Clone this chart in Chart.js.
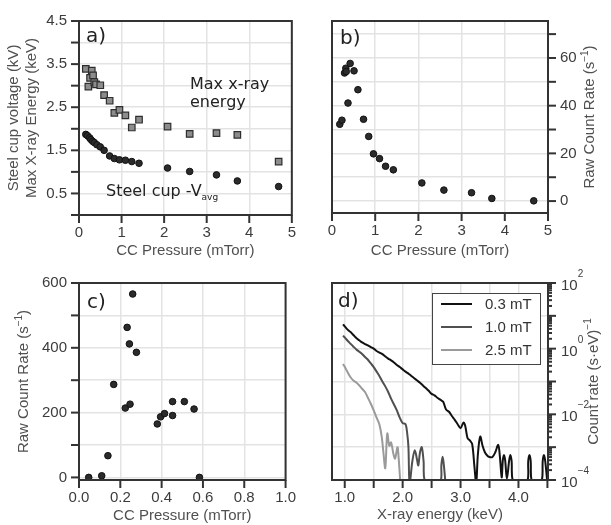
<!DOCTYPE html>
<html>
<head>
<meta charset="utf-8">
<script src="https://cdn.jsdelivr.net/npm/chart.js@4.4.1/dist/chart.umd.min.js"></script>
<style>
  body { margin: 0; background: #fff; }
  #wrap { position: relative; width: 611px; height: 525px; overflow: hidden; }
  canvas { position: absolute; }
</style>
</head>
<body>
<div id="wrap">
  <canvas id="chart-a" width="305" height="262" style="left:0;top:0"></canvas>
  <canvas id="chart-b" width="306" height="262" style="left:305px;top:0"></canvas>
  <canvas id="chart-c" width="305" height="263" style="left:0;top:262px"></canvas>
  <canvas id="chart-d" width="306" height="263" style="left:305px;top:262px"></canvas>
</div>
<script>
// a) steel cup voltage and max x-ray energy vs CC pressure
const aCupPressure = [0.16, 0.20, 0.25, 0.28, 0.32, 0.36, 0.42, 0.50, 0.59, 0.72, 0.83, 0.95, 1.09, 1.24, 1.41, 2.08, 2.60, 3.23, 3.72, 4.69];
const aCupVoltage = [1.87, 1.84, 1.79, 1.75, 1.71, 1.68, 1.63, 1.58, 1.50, 1.37, 1.31, 1.28, 1.27, 1.24, 1.20, 1.09, 1.01, 0.93, 0.79, 0.66];
const aXrayPressure = [0.16, 0.22, 0.26, 0.30, 0.33, 0.36, 0.40, 0.50, 0.59, 0.72, 0.83, 0.95, 1.09, 1.24, 1.41, 2.08, 2.60, 3.23, 3.72, 4.69];
const aXrayEnergy = [3.39, 2.98, 3.18, 3.35, 3.24, 3.08, 3.03, 3.01, 2.78, 2.65, 2.37, 2.44, 2.31, 2.03, 2.21, 2.05, 1.88, 1.90, 1.86, 1.24];

// b) raw count rate vs CC pressure
const bPressure = [0.18, 0.23, 0.29, 0.32, 0.33, 0.37, 0.42, 0.51, 0.60, 0.73, 0.85, 0.96, 1.10, 1.24, 1.42, 2.08, 2.59, 3.23, 3.70, 4.67];
const bRate = [32.2, 33.9, 53.7, 55.7, 54.3, 41.1, 57.7, 54.6, 46.7, 34.3, 27.1, 19.8, 17.8, 14.6, 13.1, 7.6, 4.6, 3.5, 1.1, 0.1];

// c) raw count rate, low pressure range
const cPressure = [0.047, 0.11, 0.14, 0.168, 0.224, 0.233, 0.244, 0.247, 0.26, 0.278, 0.379, 0.395, 0.414, 0.453, 0.453, 0.51, 0.557, 0.583];
const cRate = [0, 5, 67, 287, 214, 463, 412, 226, 566, 386, 165, 187, 197, 234, 191, 234, 211, 0];

// d) x-ray spectra, count rate (s·eV)^-1 vs energy (keV)
const dSeriesNames = ['0.3 mT', '1.0 mT', '2.5 mT'];
const dEnergy03 = [0.97, 1.00, 1.05, 1.10, 1.15, 1.20, 1.25, 1.30, 1.35, 1.40, 1.45, 1.50, 1.55, 1.60, 1.65, 1.70, 1.75, 1.80, 1.85, 1.90,
  1.95, 2.00, 2.05, 2.10, 2.15, 2.20, 2.25, 2.30, 2.35, 2.40, 2.45, 2.50, 2.55, 2.60, 2.65, 2.70, 2.75, 2.80, 2.85, 2.90,
  2.95, 3.00, 3.05, 3.08, 3.12, 3.16, 3.20, 3.24, 3.27, 3.30, 3.34, 3.38, 3.42, 3.46, 3.50, 3.55, 3.60, 3.65, 3.68, 3.71,
  3.73, 3.75, 3.77, 3.80, 3.84, 3.86, 3.88, 3.92, 4.14, 4.17, 4.19, 4.21, 4.24, 4.39, 4.42, 4.44, 4.46, 4.50];
const dRate03 = [5.5, 4.8, 3.8, 3.2, 2.6, 2.1, 1.8, 1.55, 1.38, 1.26, 1.12, 1.0, 0.85, 0.76, 0.68, 0.58, 0.50, 0.44, 0.38, 0.32,
  0.275, 0.234, 0.20, 0.174, 0.148, 0.126, 0.107, 0.091, 0.076, 0.063, 0.052, 0.042, 0.038, 0.032, 0.028, 0.024, 0.014, 0.012, 0.0089, 0.0068,
  0.0050, 0.0038, 0.0056, 0.0045, 0.0019, 0.0016, 0.00126, 0.00025, 0.00008, 0.00063, 0.0021, 0.0011, 0.0007, 0.00056, 0.0005, 0.0005, 0.0007, 0.00117, 0.0005, 0.00012,
  0.0004, 0.00058, 0.0004, 0.00011, 0.0004, 0.00058, 0.0004, 0.00008, 0.00008, 0.0004, 0.00058, 0.0004, 0.00008, 0.00008, 0.0004, 0.00058, 0.0004, 0.00008];
const dEnergy10 = [0.97, 1.00, 1.05, 1.10, 1.15, 1.20, 1.25, 1.30, 1.35, 1.40, 1.45, 1.50, 1.55, 1.60, 1.65, 1.70, 1.75, 1.80, 1.85, 1.90,
  1.95, 2.00, 2.05, 2.08, 2.10, 2.12, 2.17, 2.21, 2.25, 2.27, 2.30, 2.33, 2.36, 2.40, 2.64, 2.67, 2.69, 2.71, 2.74];
const dRate10 = [2.5, 2.2, 1.74, 1.41, 1.15, 0.95, 0.81, 0.69, 0.56, 0.46, 0.355, 0.275, 0.20, 0.145, 0.10, 0.071, 0.048, 0.030, 0.020, 0.0132,
  0.0079, 0.0054, 0.0050, 0.0025, 0.001, 0.00008, 0.0004, 0.00081, 0.0004, 0.00028, 0.0007, 0.001, 0.0004, 0.00008, 0.00008, 0.0003, 0.00051, 0.0003, 0.00008];
const dEnergy25 = [0.97, 1.00, 1.05, 1.10, 1.15, 1.20, 1.25, 1.30, 1.35, 1.40, 1.45, 1.50, 1.55, 1.60, 1.64, 1.67, 1.70, 1.735, 1.77, 1.80,
  1.84, 1.87, 1.91, 1.93, 1.96];
const dRate25 = [0.34, 0.28, 0.19, 0.135, 0.107, 0.093, 0.076, 0.060, 0.048, 0.032, 0.021, 0.0132, 0.0079, 0.0048, 0.002, 0.00063, 0.00023, 0.0026, 0.0011, 0.0014,
  0.00063, 0.00045, 0.001, 0.0005, 0.00008];

// axis ticks
const ticksPressure = [0, 1, 2, 3, 4, 5];
const ticksVoltage = [0, 0.5, 1, 1.5, 2, 2.5, 3, 3.5, 4, 4.5];
const ticksRateB = [0, 10, 20, 30, 40, 50, 60, 70];
const ticksPressureC = [0, 0.2, 0.4, 0.6, 0.8, 1.0];
const ticksRateC = [0, 100, 200, 300, 400, 500, 600];
const ticksEnergy = [1.0, 1.5, 2.0, 2.5, 3.0, 3.5, 4.0, 4.5];
const decades = [-4, -3, -2, -1, 0, 1, 2];

const SANS = '"Liberation Sans", Arial, sans-serif';
const NOTE = '"DejaVu Sans", Verdana, sans-serif';
const GRID = '#e3e3e3';
const TICK_COLOR = '#3c3c3c';
const TITLE_COLOR = '#505050';

const xy = (xs, ys) => ys.map((y, i) => ({ x: xs[i], y }));
const isDecade = v => Math.abs(Math.log10(v) - Math.round(Math.log10(v))) < 1e-6;

// log ticks: every 1..9 x 10^n between 1e-4 and 1e2
const logTicks = [];
decades.forEach(e => {
  for (let m = 1; m <= 9; m++) {
    if (e === 2 && m > 1) break;
    logTicks.push(m * Math.pow(10, e));
  }
});

// draws text made of pieces: [text, size, dy, font]
function richText(ctx, parts, x, y, align, rotate, color) {
  ctx.save();
  ctx.translate(x, y);
  if (rotate) ctx.rotate(-Math.PI / 2);
  ctx.fillStyle = color;
  ctx.textBaseline = 'alphabetic';
  ctx.textAlign = 'left';
  let w = 0;
  parts.forEach(p => {
    ctx.font = p[1] + 'px ' + (p[3] || SANS);
    w += ctx.measureText(p[0]).width;
  });
  let u = align === 'center' ? -w / 2 : 0;
  parts.forEach(p => {
    ctx.font = p[1] + 'px ' + (p[3] || SANS);
    ctx.fillText(p[0], u, p[2] || 0);
    u += ctx.measureText(p[0]).width;
  });
  ctx.restore();
}

const decor = {
  id: 'decor',
  afterDatasetsDraw(chart) {
    const { ctx, chartArea: a } = chart;
    ctx.save();
    ctx.strokeStyle = '#333';
    ctx.lineWidth = 2;
    Object.values(chart.scales).forEach(s => {
      s.ticks.forEach(t => {
        const p = s.getPixelForValue(t.value);
        const len = s.type === 'logarithmic' && !isDecade(t.value) ? 4 : 8;
        ctx.beginPath();
        if (s.axis === 'x') {
          ctx.moveTo(p, a.bottom);
          ctx.lineTo(p, a.bottom + len);
        } else if (s.position === 'left') {
          ctx.moveTo(a.left - len, p);
          ctx.lineTo(a.left, p);
        } else {
          ctx.moveTo(a.right, p);
          ctx.lineTo(a.right + len, p);
        }
        ctx.stroke();
      });
    });
    ctx.strokeRect(a.left, a.top, a.width, a.height);
    ctx.restore();
  },
  afterDraw(chart, args, opts) {
    const { ctx, chartArea: a } = chart;
    const cx = (a.left + a.right) / 2;
    const cy = (a.top + a.bottom) / 2;
    // panel letter
    richText(ctx, [[opts.label[0], 20, 0, NOTE]], a.left + opts.label[1], a.top + opts.label[2], 'left', false, '#222');
    // axis titles
    richText(ctx, [[opts.xTitle || 'CC Pressure (mTorr)', 15]], cx, a.bottom + opts.xTitleGap, 'center', false, TITLE_COLOR);
    (opts.yTitles || []).forEach(t => {
      richText(ctx, t.parts, t.x, cy + (t.dy || 0), 'center', true, TITLE_COLOR);
    });
    (opts.notes || []).forEach(n => richText(ctx, n.parts, n.x, n.y, 'left', false, '#222'));
    if (opts.after) opts.after(chart);
  }
};

function linear(position, min, max, tickVals, label, fitSize) {
  return {
    type: 'linear',
    position,
    min, max,
    afterBuildTicks: s => { s.ticks = tickVals.map(v => ({ value: v })); },
    afterFit: s => {
      if (s.isHorizontal()) s.height = fitSize; else s.width = fitSize;
    },
    grid: { color: GRID, lineWidth: 1.5, drawTicks: false },
    border: { display: false },
    ticks: {
      autoSkip: false, maxRotation: 0,
      padding: position === 'bottom' ? 9 : 12,
      color: TICK_COLOR,
      font: { family: SANS, size: 15 },
      callback: label
    }
  };
}

const common = {
  responsive: false,
  animation: false,
  devicePixelRatio: 1,
  plugins: { legend: { display: false }, tooltip: { enabled: false } }
};

const dot = { pointRadius: 3.3, pointBackgroundColor: '#2b2b2b', pointBorderColor: '#111', pointBorderWidth: 1 };

// panel a
new Chart(document.getElementById('chart-a'), {
  type: 'scatter',
  data: {
    datasets: [
      { data: xy(aXrayPressure, aXrayEnergy), pointStyle: 'rect', pointRadius: 4.6,
        pointBackgroundColor: '#8c8c8c', pointBorderColor: '#2e2e2e', pointBorderWidth: 1.2 },
      Object.assign({ data: xy(aCupPressure, aCupVoltage) }, dot)
    ]
  },
  options: Object.assign({}, common, {
    layout: { padding: { left: 0, top: 15, right: 12, bottom: 0 } },
    scales: {
      x: linear('bottom', 0, 5, ticksPressure, v => String(v), 47),
      y: linear('left', 0, 4.5, ticksVoltage, v => (v * 2) % 2 === 1 ? v.toFixed(1) : '', 79)
    },
    plugins: Object.assign({}, common.plugins, {
      decor: {
        label: ['a)', 7, 21], xTitleGap: 40,
        yTitles: [
          { parts: [['Steel cup voltage (kV)', 15]], x: 18 },
          { parts: [['Max X-ray Energy (keV)', 15]], x: 36 }
        ],
        notes: [
          { parts: [['Max x-ray', 16, 0, NOTE]], x: 190, y: 89 },
          { parts: [['energy', 16, 0, NOTE]], x: 190, y: 107 },
          { parts: [['Steel cup -V', 16, 0, NOTE], ['avg', 9, 4, NOTE]], x: 106, y: 196 }
        ]
      }
    })
  }),
  plugins: [decor]
});

// panel b
new Chart(document.getElementById('chart-b'), {
  type: 'scatter',
  data: { datasets: [Object.assign({ data: xy(bPressure, bRate) }, dot)] },
  options: Object.assign({}, common, {
    layout: { padding: { left: 27, top: 15, right: 0, bottom: 0 } },
    scales: {
      x: linear('bottom', 0, 5, ticksPressure, v => String(v), 49),
      y: linear('right', -5, 75.5, ticksRateB, v => v % 20 === 0 ? String(v) : '', 63)
    },
    plugins: Object.assign({}, common.plugins, {
      decor: {
        label: ['b)', 8, 23], xTitleGap: 42,
        yTitles: [{ parts: [['Raw Count Rate (s', 15], ['\u22121', 10, -6], [')', 15]], x: 289 }]
      }
    })
  }),
  plugins: [decor]
});

// panel c
new Chart(document.getElementById('chart-c'), {
  type: 'scatter',
  data: { datasets: [Object.assign({ data: xy(cPressure, cRate) }, dot)] },
  options: Object.assign({}, common, {
    layout: { padding: { left: 0, top: 20, right: 12, bottom: 0 } },
    scales: {
      x: linear('bottom', 0, 1, ticksPressureC, v => v.toFixed(1), 45),
      y: linear('left', -8, 600, ticksRateC, v => v % 200 === 0 ? String(v) : '', 79)
    },
    plugins: Object.assign({}, common.plugins, {
      decor: {
        label: ['c)', 8, 25], xTitleGap: 40,
        yTitles: [{ parts: [['Raw Count Rate (s', 15], ['\u22121', 10, -6], [')', 15]], x: 28 }]
      }
    })
  }),
  plugins: [decor]
});

// panel d
const spectrumColors = ['#111111', '#505050', '#9a9a9a'];
new Chart(document.getElementById('chart-d'), {
  type: 'line',
  data: {
    datasets: [
      { label: dSeriesNames[0], data: xy(dEnergy03, dRate03) },
      { label: dSeriesNames[1], data: xy(dEnergy10, dRate10) },
      { label: dSeriesNames[2], data: xy(dEnergy25, dRate25) }
    ].map((d, i) => Object.assign(d, { borderColor: spectrumColors[i], borderWidth: 2, pointRadius: 0, tension: 0.35, fill: false }))
  },
  options: Object.assign({}, common, {
    layout: { padding: { left: 27, top: 21, right: 0, bottom: 0 } },
    scales: {
      x: linear('bottom', 0.78, 4.51, ticksEnergy, v => v % 1 === 0 ? v.toFixed(1) : '', 45),
      y: {
        type: 'logarithmic',
        position: 'right',
        min: 1e-4, max: 1e2,
        afterBuildTicks: s => { s.ticks = logTicks.map(v => ({ value: v })); },
        afterFit: s => { s.width = 63; },
        grid: { color: c => isDecade(c.tick.value) ? GRID : 'rgba(0,0,0,0)', lineWidth: 1.5, drawTicks: false },
        border: { display: false },
        ticks: { display: false }
      }
    },
    plugins: Object.assign({}, common.plugins, {
      decor: {
        label: ['d)', 6, 24], xTitleGap: 39, xTitle: 'X-ray energy (keV)',
        yTitles: [{ parts: [['Count rate (s\u00b7eV)', 15], ['\u22121', 10, -7]], x: 293 }],
        after: chart => {
          const { ctx, chartArea: a } = chart;
          const ys = chart.scales.y;
          // decade labels 10^n
          decades.filter(e => e % 2 === 0).forEach(e => {
            const p = ys.getPixelForValue(Math.pow(10, e));
            const ex = e < 0 ? '\u2212' + Math.abs(e) : String(e);
            richText(ctx, [['10', 15, 0], [ex, 10, -13]], a.right + 13, p + 7, 'left', false, TICK_COLOR);
          });
          // legend box
          const bx = a.right - 116, by = a.top + 10, bw = 108, bh = 71;
          ctx.save();
          ctx.fillStyle = '#fff';
          ctx.fillRect(bx, by, bw, bh);
          ctx.strokeStyle = '#444';
          ctx.lineWidth = 1;
          ctx.strokeRect(bx + 0.5, by + 0.5, bw, bh);
          chart.data.datasets.forEach((d, i) => {
            const ly = by + 11 + i * 23;
            ctx.strokeStyle = d.borderColor;
            ctx.lineWidth = 2;
            ctx.beginPath();
            ctx.moveTo(bx + 9, ly);
            ctx.lineTo(bx + 40, ly);
            ctx.stroke();
            richText(ctx, [[d.label, 15]], bx + 53, ly + 5, 'left', false, '#333');
          });
          ctx.restore();
        }
      }
    })
  }),
  plugins: [decor]
});
</script>
</body>
</html>
